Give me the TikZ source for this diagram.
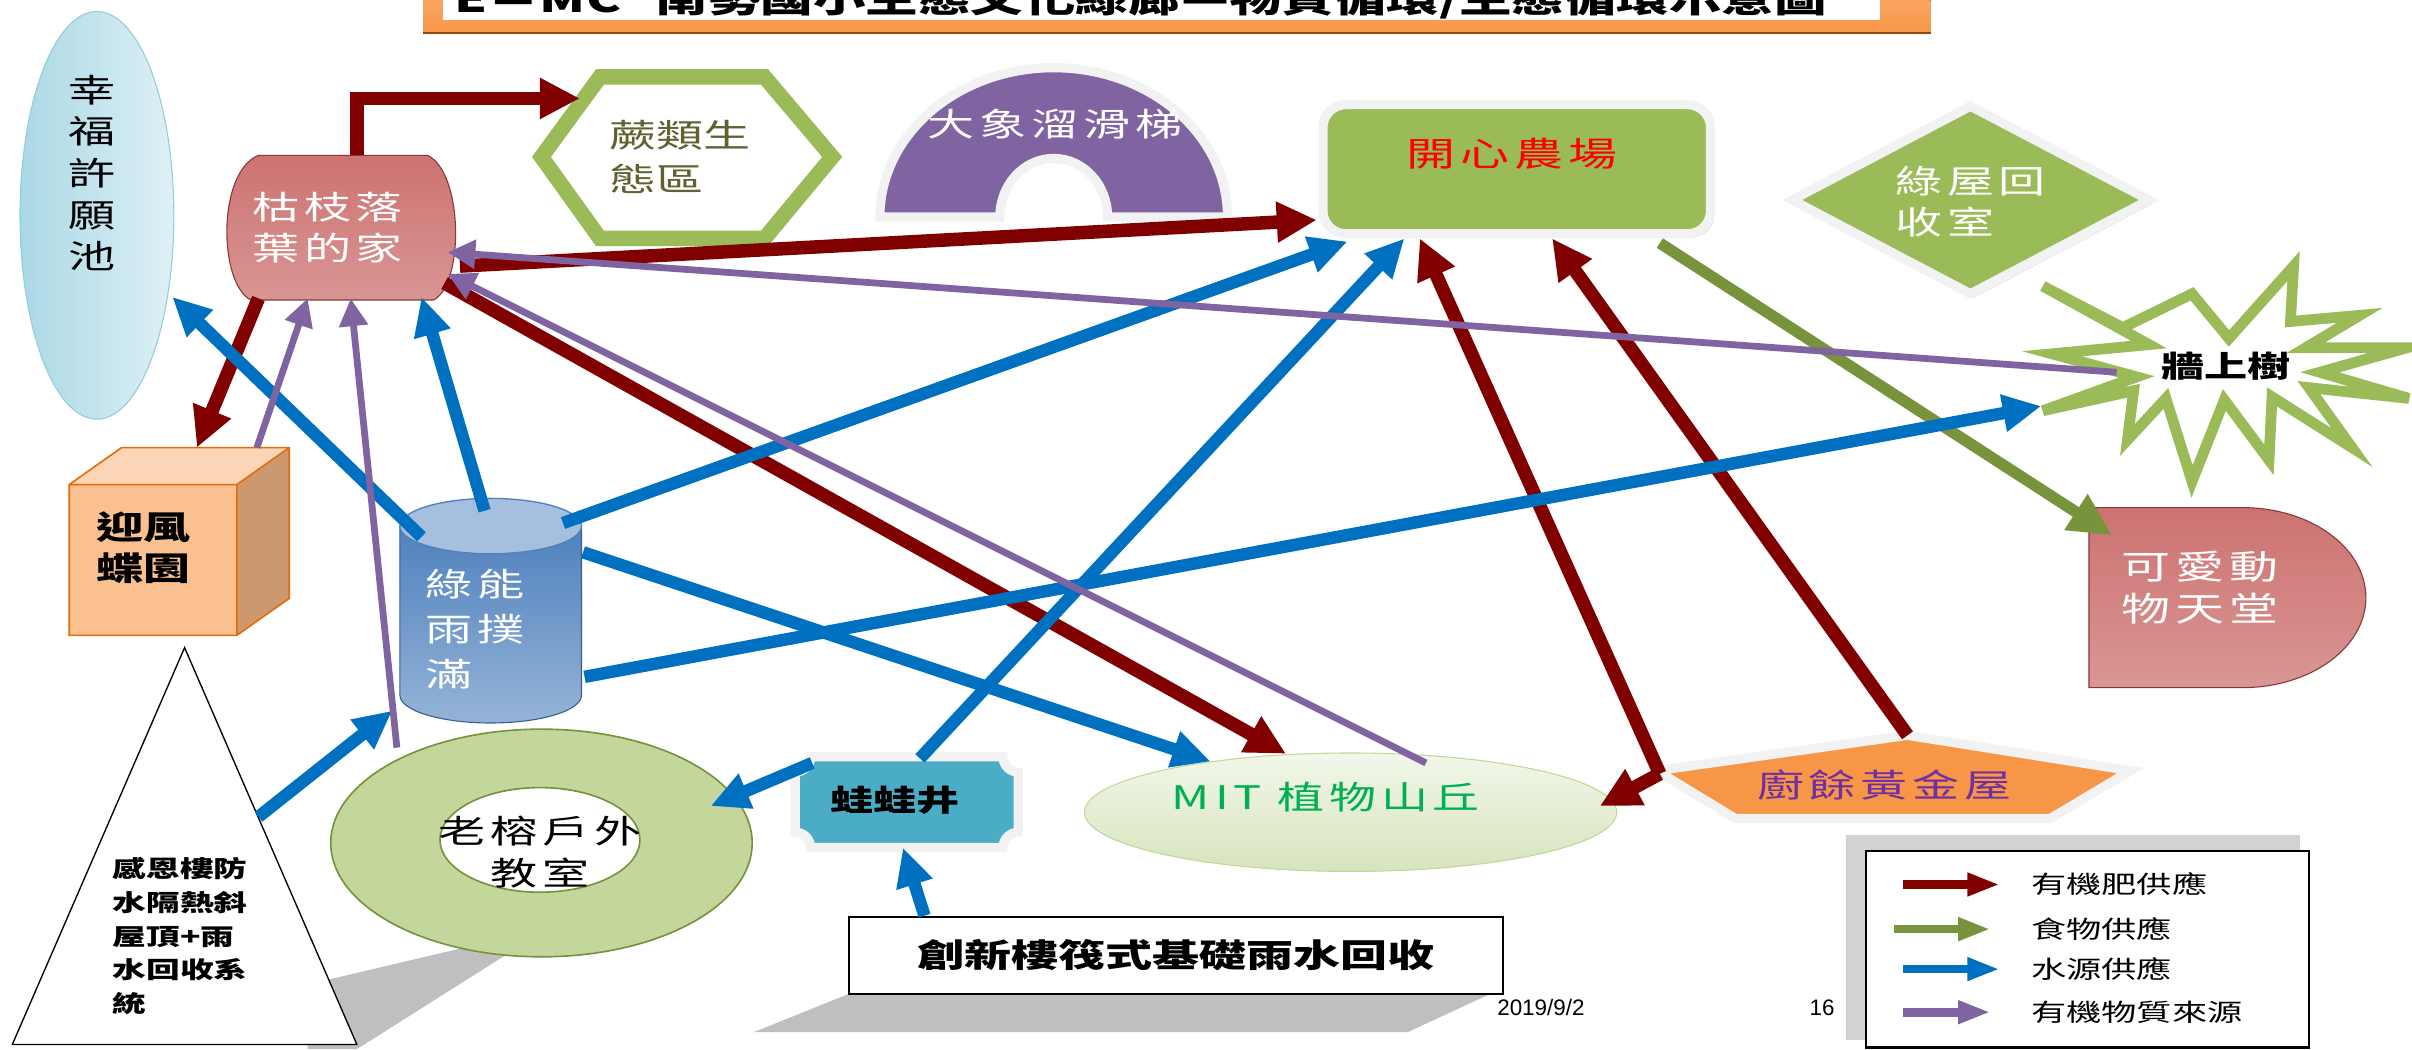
\documentclass[tikz,border=0pt]{standalone}
\usepackage{fontspec}
\setmainfont{Liberation Sans}
\newfontfamily\cjk[FakeStretch=1.45,LetterSpace=15]{Noto Sans CJK TC}
\newfontfamily\cjkn[FakeStretch=1.45]{Noto Sans CJK TC}
\usetikzlibrary{arrows.meta,shapes.geometric,calc,shadows}
\definecolor{cFert}{RGB}{128,0,0}
\definecolor{cFood}{RGB}{119,147,60}
\definecolor{cWater}{RGB}{0,112,192}
\definecolor{cOrg}{RGB}{128,100,162}
\definecolor{cLeafG}{RGB}{155,187,89}
\definecolor{cLeafL}{RGB}{195,214,155}
\definecolor{cOliveD}{RGB}{118,146,60}
\definecolor{cRedS}{RGB}{192,80,77}
\definecolor{cRedL}{RGB}{217,150,148}
\definecolor{cBlueS}{RGB}{79,129,189}
\definecolor{cBlueL}{RGB}{149,179,215}
\definecolor{cBlueT}{RGB}{167,191,222}
\definecolor{cBlueD}{RGB}{54,96,146}
\definecolor{cTeal}{RGB}{75,172,198}
\definecolor{cOrange}{RGB}{247,150,70}
\definecolor{cOrangeL}{RGB}{250,192,144}
\definecolor{cOrangeT}{RGB}{251,213,181}
\definecolor{cOrangeS}{RGB}{205,152,110}
\definecolor{cOrangeD}{RGB}{228,108,10}
\definecolor{cBrown}{RGB}{152,72,7}
\definecolor{cPondL}{RGB}{222,240,245}
\definecolor{cPondD}{RGB}{170,216,229}
\definecolor{cPondE}{RGB}{146,205,220}
\definecolor{cOlive}{RGB}{96,96,48}
\definecolor{cMitG}{RGB}{0,176,80}
\definecolor{cMitL}{RGB}{242,247,234}
\definecolor{cMitD}{RGB}{215,228,189}
\definecolor{cPurp}{RGB}{112,48,160}
\definecolor{cRim}{RGB}{242,242,242}
\tikzset{
geom/.style={inner sep=0pt,outer sep=0pt},
fert/.style={draw=cFert,line width=5pt,-{Triangle[length=5.2mm,width=5mm]}},
water/.style={draw=cWater,line width=4.6pt,-{Triangle[length=5mm,width=4.6mm]}},
food/.style={draw=cFood,line width=4.2pt,-{Triangle[length=5.6mm,width=5.2mm]}},
organic/.style={draw=cOrg,line width=2.5pt,-{Triangle[length=3.6mm,width=3.6mm]}},
legarrow/.style={line width=3.2pt,-{Triangle[length=4.2mm,width=2.8mm]}},
lbl/.style={inner sep=0pt,align=center,font=\cjk\fontsize{12}{15.4}\selectfont},
lbln/.style={inner sep=0pt,align=center,font=\cjkn\fontsize{12}{15.4}\selectfont},
lblb/.style={inner sep=0pt,align=center,font=\cjkn\bfseries\fontsize{11}{13}\selectfont},
leg/.style={anchor=west,inner sep=0pt,font=\cjkn\fontsize{9}{11}\selectfont},
rim/.style={draw=cRim,line width=1.2mm},
shade/.style={drop shadow={shadow xshift=.5mm,shadow yshift=-.5mm,fill=gray!45}},
redfill/.style={draw=cRedS!70!black,top color=cRedS!80!white,middle color=cRedS,bottom color=cRedL}
}
\begin{document}
\begin{tikzpicture}[x=0.2mm,y=-0.2mm]
\useasboundingbox (0,0) rectangle (1568,682);
\fill[top color=cOrangeL,bottom color=cOrange] (275,-40) rectangle (1255,22);
\draw[cBrown,line width=1pt] (275,21.5) -- (1255,21.5);
\fill[white] (288,-40) rectangle (1222,13);
\node[anchor=base west,inner sep=0pt,font=\cjkn\bfseries\fontsize{13.4}{16}\selectfont] (TITLE) at (295,8) {E＝MC² 南勢國小生態文化綠廊—物質循環/生態循環示意圖};
\node[ellipse,geom,minimum width=20mm,minimum height=53mm,left color=cPondD,right color=cPondL,draw=cPondE] (POND) at (63,140) {};
\path[redfill] (168,101) -- (278,101) .. controls (301,112) and (302,184) .. (282,195) -- (163,195) .. controls (142,184) and (141,112) .. (168,101) -- cycle;
\node[geom,minimum width=31.4mm,minimum height=18.8mm] (LITTER) at (221,148) {};
\draw[cLeafG,line width=2mm,fill=white] (352,102) -- (390,50) -- (497,50) -- (541,102) -- (497,155) -- (390,155) -- cycle;
\node[geom,minimum width=38mm,minimum height=21mm] (FERN) at (446,102) {};
\draw[rim,fill=cOrg] (572,141) arc[start angle=180,end angle=360,x radius=113,y radius=97] -- (720,141) arc[start angle=0,end angle=-180,x radius=35,y radius=38] -- cycle;
\node[geom,rim,shade,fill=cLeafG,rounded corners=3mm,minimum width=50.4mm,minimum height=16.8mm] (FARM) at (986,110) {};
\node[diamond,geom,rim,shade,fill=cLeafG,minimum width=46.4mm,minimum height=24.4mm] (RECYC) at (1281,130) {};
\draw[cLeafG,line width=1.4mm,fill=white] (1328,186) -- (1380,213) -- (1425,191) -- (1449,220) -- (1491,173) -- (1489,209) -- (1534,205) -- (1499,226) -- (1565,226) -- (1508,242) -- (1566,259) -- (1501,252) -- (1529,291) -- (1477,258) -- (1475,299) -- (1446,260) -- (1425,313) -- (1408,259) -- (1383,286) -- (1387,254) -- (1328,267) -- (1389,245) -- (1334,230) -- (1397,224) -- cycle;
\node[geom,minimum width=26mm,minimum height=10mm] (TREE) at (1447,238) {};
\path[redfill] (1358,330) -- (1458,330) arc[start angle=-90,end angle=90,x radius=80,y radius=58.5] -- (1358,447) -- cycle;
\node[geom,minimum width=36mm,minimum height=23.4mm] (ZOO) at (1448,388.5) {};
\fill[cOrangeT] (45,315) -- (79,291) -- (188,291) -- (154,315) -- cycle;
\fill[cOrangeS] (154,315) -- (188,291) -- (188,389) -- (154,413) -- cycle;
\node[geom,minimum width=21.8mm,minimum height=19.6mm,top color=cOrangeL,middle color=cOrange,bottom color=cOrangeL] (BFLY) at (99.5,364) {};
\draw[cOrangeD,line width=.6pt] (45,315) -- (79,291) -- (188,291) -- (188,389) -- (154,413) -- (45,413) -- cycle (45,315) -- (154,315) -- (188,291) (154,315) -- (154,413);
\path[draw=cBlueD,top color=cBlueS,bottom color=cBlueL] (260,342) -- (260,452) arc[start angle=180,end angle=0,x radius=59,y radius=18] -- (378,342) -- cycle;
\draw[cBlueS,line width=.5pt,fill=cBlueT] (319,342) ellipse[x radius=59,y radius=18];
\node[geom,minimum width=23.6mm,minimum height=29.2mm] (TANK) at (319,397) {};
\fill[gray!50] (200,640) -- (357,603) -- (232,682) -- (200,682) -- cycle;
\draw[black,line width=.5pt,fill=white] (120,421) -- (232,679) -- (8,679) -- cycle;
\node[geom,minimum width=44.8mm,minimum height=51.6mm] (ROOF) at (120,550) {};
\path[even odd rule,draw=cOliveD,line width=.6pt,top color=cLeafL,middle color=cLeafG,bottom color=cLeafL] (352,548) ellipse[x radius=137,y radius=74] (351,546) ellipse[x radius=65,y radius=34];
\node[geom,minimum width=54.8mm,minimum height=29.6mm] (BANYAN) at (352,548) {};
\path[rim,fill=cTeal] (527,492) -- (652,492) arc[start angle=180,end angle=90,radius=10] -- (662,541) arc[start angle=-90,end angle=-180,radius=10] -- (527,551) arc[start angle=0,end angle=-90,radius=10] -- (517,502) arc[start angle=90,end angle=0,radius=10] -- cycle;
\node[geom,minimum width=29mm,minimum height=11.8mm] (FROG) at (589.5,521.5) {};
\node[ellipse,geom,minimum width=69.2mm,minimum height=15.4mm,draw=cLeafL,top color=cMitL,bottom color=cMitD] (MIT) at (878,528) {};
\path[rim,fill=cOrange] (1240,478) -- (1385,501) -- (1333,532) -- (1128,532) -- (1077,501) -- cycle;
\node[geom,minimum width=61.6mm,minimum height=10.8mm] (KITCHEN) at (1231,505) {};
\fill[gray!50] (552,646) -- (969,646) -- (915,671) -- (490,671) -- cycle;
\node[draw=black,line width=.8pt,fill=white,inner sep=0pt,minimum width=85mm,minimum height=10mm,font=\cjkn\bfseries\fontsize{12}{14}\selectfont] (RAFT) at (764.5,621) {創新樓筏式基礎雨水回收};
\draw[fert] ($(LITTER.north)+(11,0)$) |- ($(FERN.center)+(-69,-38)$);
\draw[fert] ($(LITTER.center)+(78,25)$) -- ($(FARM.center)+(-130,33)$);
\draw[fert] ($(LITTER.south)+(-53,-1)$) -- ($(BFLY.center)+(28.5,-73)$);
\draw[fert] ($(LITTER.center)+(68,36)$) -- ($(MIT.center)+(-42,-38)$);
\draw[fert] ($(KITCHEN.center)+(-152,-2)$) -- ($(FARM.center)+(-63,45)$);
\draw[fert] ($(KITCHEN.center)+(9,-27)$) -- ($(FARM.center)+(23,45)$);
\draw[fert] ($(KITCHEN.center)+(-152,-2)$) -- ($(MIT.center)+(162,-4)$);
\draw[food] ($(FARM.center)+(93,48)$) -- ($(ZOO.center)+(-75,-40.5)$);
\draw[water] ($(TANK.center)+(-4,-65)$) -- ($(LITTER.south)+(53,-2)$);
\draw[water] ($(TANK.center)+(-45,-48)$) -- ($(POND.center)+(49,53)$);
\draw[water] ($(TANK.center)+(47,-57)$) -- ($(FARM.center)+(-110,47)$);
\draw[water] ($(TANK.center)+(60,-38)$) -- ($(MIT.center)+(-91,-33)$);
\draw[water] ($(TANK.center)+(61,43)$) -- ($(TREE.center)+(-120,26)$);
\draw[water] ($(ROOF.center)+(48,-19)$) -- ($(TANK.center)+(-64,65)$);
\draw[water] ($(FROG.center)+(8.5,-28.5)$) -- ($(FARM.center)+(-73,45)$);
\draw[water] ($(FROG.center)+(-61.5,-25.5)$) -- ($(BANYAN.center)+(110,-24)$);
\draw[water] ($(RAFT.north)+(-163.5,0)$) -- ($(FROG.south)+(-2.5,0)$);
\draw[organic] ($(BFLY.center)+(67.5,-73)$) -- ($(LITTER.south)+(-21,-1)$);
\draw[organic] ($(BANYAN.center)+(-94,-62)$) -- ($(LITTER.south)+(7,-1)$);
\draw[organic] ($(MIT.center)+(49,-32)$) -- ($(LITTER.center)+(70,30)$);
\draw[organic] ($(TREE.center)+(-71,4)$) -- ($(LITTER.center)+(70,16)$);
\node[lbl] (TPOND) at (60,112.5) {幸\\福\\許\\願\\池};
\node[lbl,text=white] (TLITTER) at (213,148) {枯枝落\\葉的家};
\node[lbln,text=cOlive,align=left,font=\cjkn\fontsize{12}{16.5}\selectfont] (TFERN) at (442,102) {蕨類生\\態區};
\node[lbl,text=white] (TSLIDE) at (686,81) {大象溜滑梯};
\node[lbl,text=red,font=\cjk\fontsize{12.5}{15}\selectfont] (TFARM) at (983,100) {開心農場};
\node[lbl,text=white,align=left] (TRECYC) at (1281,131) {綠屋回\\收室};
\node[lblb] (TTREE) at (1447,238) {牆上樹};
\node[lbl,text=white,font=\cjk\fontsize{12.5}{15.4}\selectfont] (TZOO) at (1430,382) {可愛動\\物天堂};
\node[lbln,font=\cjkn\bfseries\fontsize{12}{15.4}\selectfont] (TBFLY) at (93,356) {迎風\\蝶園};
\node[lbl,text=white,align=left,font=\cjk\fontsize{12}{16.5}\selectfont] (TTANK) at (309,409) {綠能\\雨撲\\滿};
\node[anchor=west,inner sep=0pt,align=left,font=\cjkn\bfseries\fontsize{8.6}{12.5}\selectfont] (TROOF) at (73,608.5) {感恩樓防\\水隔熱斜\\屋頂+雨\\水回收系\\統};
\node[lbl] (TBANYAN) at (351,554) {老榕戶外\\教室};
\node[lblb] (TFROG) at (582,520) {蛙蛙井};
\node[lbl,text=cMitG] (TMIT) at (862,518) {MIT 植物山丘};
\node[lbl,text=cPurp] (TKITCHEN) at (1225,510) {廚餘黃金屋};
\fill[gray!35] (1200,543) rectangle (1495,676);
\node[draw=black,line width=.8pt,fill=white,inner sep=0pt,minimum width=57.6mm,minimum height=25.6mm] (LEG) at (1357,617) {};
\node[leg] (L1) at (1320,575) {有機肥供應};
\node[leg] (L2) at (1320,604) {食物供應};
\node[leg] (L3) at (1320,630) {水源供應};
\node[leg] (L4) at (1320,658) {有機物質來源};
\draw[fert,legarrow] ($(L1.west)+(-83,0)$) -- ($(L1.west)+(-20,0)$);
\draw[food,legarrow] ($(L2.west)+(-89,0)$) -- ($(L2.west)+(-26,0)$);
\draw[water,legarrow] ($(L3.west)+(-83,0)$) -- ($(L3.west)+(-20,0)$);
\draw[organic,legarrow] ($(L4.west)+(-83,0)$) -- ($(L4.west)+(-26,0)$);
\node[anchor=base west,inner sep=0pt,font=\fontsize{8.3}{10}\selectfont] (DATE) at (973,660) {2019/9/2};
\node[anchor=base west,inner sep=0pt,font=\fontsize{8.3}{10}\selectfont] (PAGE) at (1176,660) {16};
\end{tikzpicture}
\end{document}
